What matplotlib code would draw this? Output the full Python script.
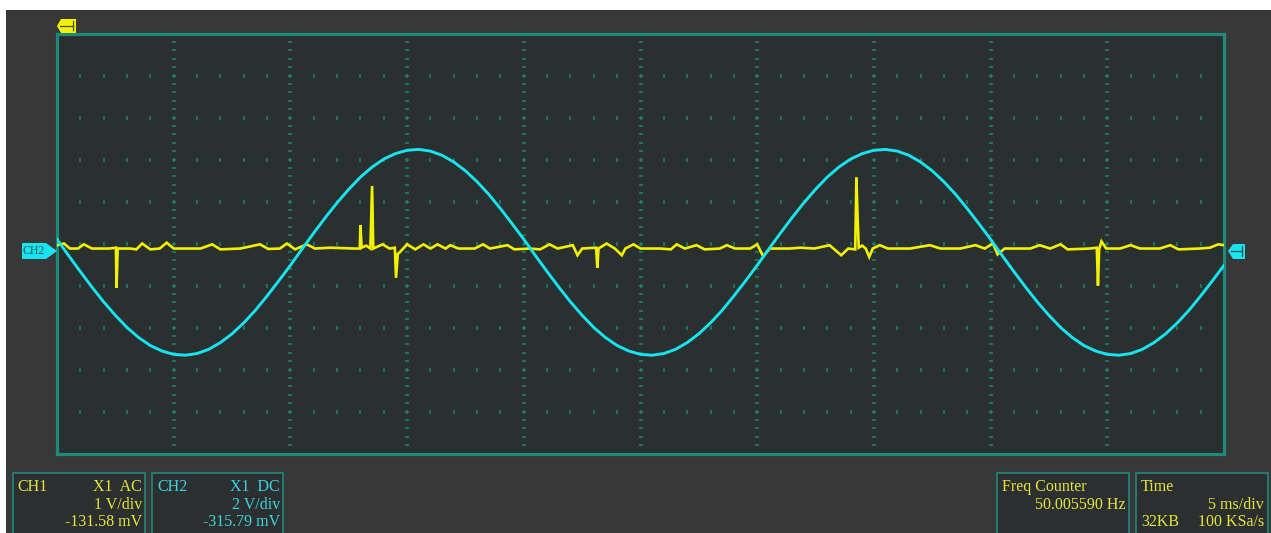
import numpy as np
import matplotlib.pyplot as plt
from matplotlib.patches import Rectangle, Polygon

# ==============================
# 数据（单位：格；横轴 5 ms/div，共 10 格）
# ==============================
ch1_t = np.arange(101) * 0.1
ch1_v = [0.10, -0.29, -0.67, -1.04, -1.39, -1.71, -2.00, -2.24, -2.43, -2.56,
         -2.64, -2.66, -2.62, -2.52, -2.36, -2.15, -1.89, -1.59, -1.25, -0.89,
         -0.52, -0.13, 0.25, 0.62, 0.97, 1.29, 1.58, 1.82, 2.01, 2.14,
         2.22, 2.24, 2.20, 2.10, 1.94, 1.73, 1.47, 1.17, 0.83, 0.47,
         0.10, -0.29, -0.67, -1.04, -1.39, -1.71, -2.00, -2.24, -2.43, -2.56,
         -2.64, -2.66, -2.62, -2.52, -2.36, -2.15, -1.89, -1.59, -1.25, -0.89,
         -0.52, -0.13, 0.25, 0.62, 0.97, 1.29, 1.58, 1.82, 2.01, 2.14,
         2.22, 2.24, 2.20, 2.10, 1.94, 1.73, 1.47, 1.17, 0.83, 0.47,
         0.10, -0.29, -0.67, -1.04, -1.39, -1.71, -2.00, -2.24, -2.43, -2.56,
         -2.64, -2.66, -2.62, -2.52, -2.36, -2.15, -1.89, -1.59, -1.25, -0.89,
         -0.52]

ch2_t = [0.00, 0.06, 0.11, 0.18, 0.23, 0.30, 0.45, 0.505, 0.51, 0.52,
         0.63, 0.68, 0.73, 0.80, 0.88, 0.94, 1.00, 1.23, 1.33, 1.40,
         1.57, 1.74, 1.81, 1.91, 1.97, 2.04, 2.14, 2.21, 2.34, 2.55,
         2.595, 2.60, 2.61, 2.65, 2.685, 2.70, 2.71, 2.79, 2.85, 2.895,
         2.905, 2.92, 2.94, 3.00, 3.07, 3.14, 3.20, 3.26, 3.33, 3.37,
         3.44, 3.58, 3.65, 3.71, 3.86, 3.92, 4.05, 4.14, 4.22, 4.29,
         4.42, 4.46, 4.50, 4.62, 4.63, 4.64, 4.71, 4.78, 4.84, 4.87,
         4.94, 5.00, 5.17, 5.26, 5.31, 5.38, 5.48, 5.55, 5.68, 5.74,
         5.81, 5.94, 6.00, 6.05, 6.11, 6.28, 6.37, 6.49, 6.62, 6.72,
         6.78, 6.84, 6.85, 6.86, 6.87, 6.90, 6.93, 6.96, 6.99, 7.05,
         7.12, 7.31, 7.48, 7.57, 7.74, 7.87, 7.95, 8.02, 8.06, 8.12,
         8.34, 8.42, 8.51, 8.60, 8.66, 8.85, 8.91, 8.92, 8.93, 8.95,
         8.99, 9.11, 9.20, 9.28, 9.45, 9.54, 9.61, 9.79, 9.88, 9.95,
         10.00]
ch2_v = [-0.04, 0.00, -0.12, -0.12, -0.02, -0.12, -0.12, -0.10, -1.05, -0.12,
         -0.12, -0.14, 0.00, -0.14, -0.12, 0.02, -0.12, -0.12, -0.02, -0.14,
         -0.12, -0.02, -0.13, -0.12, 0.00, -0.14, -0.02, -0.12, -0.10, -0.12,
         -0.12, 0.44, -0.10, -0.05, -0.12, 1.37, -0.12, -0.02, -0.12, -0.10,
         -0.82, -0.25, -0.20, -0.02, -0.14, -0.02, -0.12, -0.02, -0.12, -0.04,
         -0.12, -0.12, -0.02, -0.12, -0.04, -0.14, -0.12, -0.14, -0.02, -0.12,
         -0.04, -0.28, -0.12, -0.10, -0.58, -0.12, 0.00, -0.12, -0.28, -0.12,
         -0.02, -0.12, -0.12, -0.14, -0.02, -0.12, -0.04, -0.14, -0.12, -0.04,
         -0.12, -0.12, -0.02, -0.30, -0.12, -0.12, -0.10, -0.12, -0.04, -0.28,
         -0.12, -0.14, 1.57, 0.65, -0.10, -0.05, -0.12, -0.32, -0.12, -0.04,
         -0.12, -0.12, -0.04, -0.12, -0.12, -0.04, -0.12, 0.00, -0.26, -0.12,
         -0.12, -0.04, -0.12, -0.02, -0.14, -0.12, -0.10, -1.00, -0.14, 0.05,
         -0.12, -0.12, -0.04, -0.12, -0.12, -0.04, -0.14, -0.12, -0.10, -0.02,
         -0.04]

ch1_info = ["CH1", "X1  AC", "1 V/div", "-131.58 mV"]
ch2_info = ["CH2", "X1  DC", "2 V/div", "-315.79 mV"]
freq_info = ["Freq Counter", "50.005590 Hz"]
time_info = ["Time", "5 ms/div", "32KB", "100 KSa/s"]

# 颜色
bg_outer = '#383838'
bg_plot = '#2a2f30'
teal = '#1e8a7a'
grid_c = '#1f8072'
cyan = '#18e4f0'
yellow = '#f2f200'
txt_y = '#e6e63a'
txt_c = '#3ad6e0'

W, H = 1271, 533
fig = plt.figure(figsize=(W / 100, H / 100), dpi=100, facecolor=bg_outer)

# ==============================
# 波形区域
# ==============================
ax = fig.add_axes([57 / W, (H - 453.5) / H, 1167 / W, 420 / H])
ax.set_facecolor(bg_plot)
ax.set_xlim(0, 10)
ax.set_ylim(-5, 5)
ax.set_xticks([])
ax.set_yticks([])
for sp in ax.spines.values():
    sp.set_color(teal)
    sp.set_linewidth(2.3)

fine = np.arange(1, 50) * 0.2
for xv in range(1, 10):
    ax.plot(np.full(fine.size, xv), fine - 5, ls='none', marker='_',
            ms=2.8, mew=1.1, color=grid_c)
for yv in range(-4, 5):
    ax.plot(fine, np.full(fine.size, yv), ls='none', marker='|',
            ms=2.8, mew=1.1, color=grid_c)

ax.plot(ch2_t, ch2_v, color=yellow, lw=1.9, solid_joinstyle='miter', zorder=3)
ax.plot(ch1_t, ch1_v, color=cyan, lw=2.1, zorder=4)

# ==============================
# 装饰层（像素坐标）
# ==============================
ov = fig.add_axes([0, 0, 1, 1], zorder=5)
ov.set_xlim(0, W)
ov.set_ylim(H, 0)
ov.axis('off')
ov.patch.set_alpha(0)

ov.add_patch(Rectangle((0, 0), W, 10, color='white', lw=0))
ov.add_patch(Rectangle((0, 0), 6, H, color='white', lw=0))

# 左侧 CH2 标记
ov.add_patch(Polygon([(22, 243), (46, 243), (57, 251), (46, 259), (22, 259)],
                     closed=True, color=cyan, lw=0))
ov.text(34, 251.5, "CH2", ha='center', va='center', fontsize=8.5,
        family='Liberation Serif', color='#1d5a60')
# 右侧标记
ov.add_patch(Polygon([(1228, 251), (1233, 244), (1245, 244), (1245, 259), (1233, 259)],
                     closed=True, color=cyan, lw=0))
ov.plot([1231, 1242], [251, 251], color='#1d4f55', lw=0.9)
ov.plot([1242, 1242], [246, 256], color='#1d4f55', lw=0.9)
# 顶部触发位置标记
ov.add_patch(Polygon([(57, 26), (61, 19), (76, 19), (76, 33), (61, 33)],
                     closed=True, color=yellow, lw=0))
ov.plot([60, 73], [25.5, 25.5], color='#4a4a20', lw=0.9)
ov.plot([73, 73], [21, 30], color='#4a4a20', lw=0.9)

# 底部信息框
font = dict(family='Liberation Serif', fontsize=11.5, va='center')
for x0, x1 in [(13, 145), (152, 283), (997, 1129), (1136, 1268)]:
    ov.add_patch(Rectangle((x0, 473), x1 - x0, 70, facecolor='#2b2f30',
                           edgecolor=teal, lw=1.2))

rows = [487, 505, 522]
ov.text(17, rows[0], ch1_info[0], color=txt_y, ha='left', **font)
ov.text(142, rows[0], ch1_info[1], color=txt_y, ha='right', **font)
ov.text(142, rows[1], ch1_info[2], color=txt_y, ha='right', **font)
ov.text(142, rows[2], ch1_info[3], color=txt_y, ha='right', **font)

ov.text(157, rows[0], ch2_info[0], color=txt_c, ha='left', **font)
ov.text(280, rows[0], ch2_info[1], color=txt_c, ha='right', **font)
ov.text(280, rows[1], ch2_info[2], color=txt_c, ha='right', **font)
ov.text(280, rows[2], ch2_info[3], color=txt_c, ha='right', **font)

ov.text(1002, rows[0], freq_info[0], color=txt_y, ha='left', **font)
ov.text(1126, rows[1], freq_info[1], color=txt_y, ha='right', **font)

ov.text(1141, rows[0], time_info[0], color=txt_y, ha='left', **font)
ov.text(1264, rows[1], time_info[1], color=txt_y, ha='right', **font)
ov.text(1141, rows[2], time_info[2], color=txt_y, ha='left', **font)
ov.text(1264, rows[2], time_info[3], color=txt_y, ha='right', **font)

fig.savefig('out.png', dpi=100, facecolor=bg_outer)
